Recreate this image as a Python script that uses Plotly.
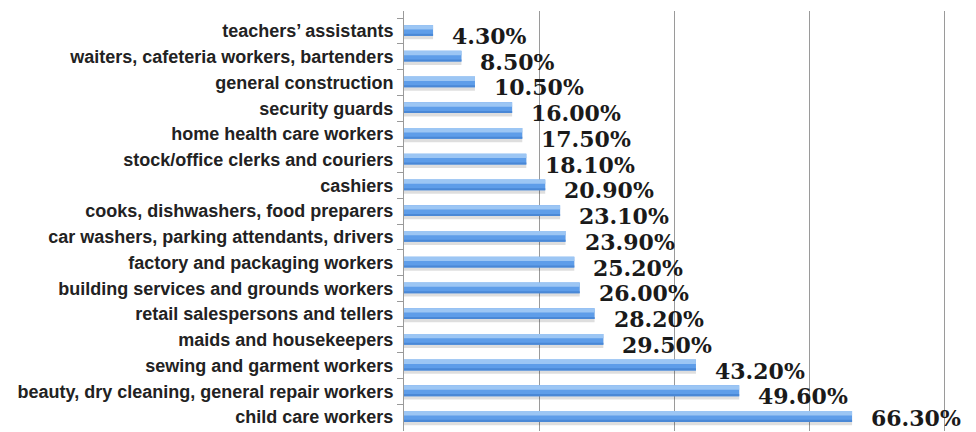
import plotly.graph_objects as go

categories = [
    "teachers’ assistants",
    "waiters, cafeteria workers, bartenders",
    "general construction",
    "security guards",
    "home health care workers",
    "stock/office clerks and couriers",
    "cashiers",
    "cooks, dishwashers, food preparers",
    "car washers, parking attendants, drivers",
    "factory and packaging workers",
    "building services and grounds workers",
    "retail salespersons and tellers",
    "maids and housekeepers",
    "sewing and garment workers",
    "beauty, dry cleaning, general repair workers",
    "child care workers",
]
values = [4.3, 8.5, 10.5, 16.0, 17.5, 18.1, 20.9, 23.1, 23.9, 25.2, 26.0, 28.2, 29.5, 43.2, 49.6, 66.3]
labels = [f"{v:.2f}%" for v in values]

fig = go.Figure()
# soft shadow
fig.add_trace(go.Bar(x=values, y=categories, orientation="h", width=0.44, offset=-0.12,
                     marker=dict(color="rgba(0,0,0,0.13)", line=dict(width=0)), hoverinfo="skip"))
# main bar
fig.add_trace(go.Bar(x=values, y=categories, orientation="h", width=0.42, offset=-0.23,
                     marker=dict(color="#5e9de9", line=dict(width=0)), hoverinfo="skip"))
# light top highlight
fig.add_trace(go.Bar(x=values, y=categories, orientation="h", width=0.17, offset=-0.23,
                     marker=dict(color="#9cc6f4", line=dict(width=0)), hoverinfo="skip"))
# darker bottom edge
fig.add_trace(go.Bar(x=values, y=categories, orientation="h", width=0.08, offset=0.11,
                     marker=dict(color="#4a88d6", line=dict(width=0)), hoverinfo="skip"))

n = len(categories)
for i, (c, v, t) in enumerate(zip(categories, values, labels)):
    fig.add_annotation(x=v, y=c, text=t, showarrow=False, xanchor="left", yanchor="middle",
                       xshift=17, yshift=(-5 if i < n - 1 else -1),
                       font=dict(family="DejaVu Serif", size=22, color="#1a1a1a", weight="bold"))

fig.update_layout(
    width=976, height=432,
    margin=dict(l=396, r=38, t=3, b=9, autoexpand=False),
    barmode="overlay",
    showlegend=False,
    plot_bgcolor="white", paper_bgcolor="white",
    xaxis=dict(range=[0, 80.2], dtick=20, showticklabels=False, showgrid=True,
               gridcolor="#9a9a9a", gridwidth=1, zeroline=False, showline=False, fixedrange=True),
    yaxis=dict(autorange="reversed", type="category", showline=True, linecolor="#9a9a9a", linewidth=1,
               ticks="outside", ticklen=6, tickcolor="#9a9a9a", tickson="boundaries",
               ticklabelstandoff=6,
               tickfont=dict(family="Liberation Sans, Arial", size=18, color="#222222", weight="bold"),
               showgrid=False),
)

fig.write_html("out.html")
